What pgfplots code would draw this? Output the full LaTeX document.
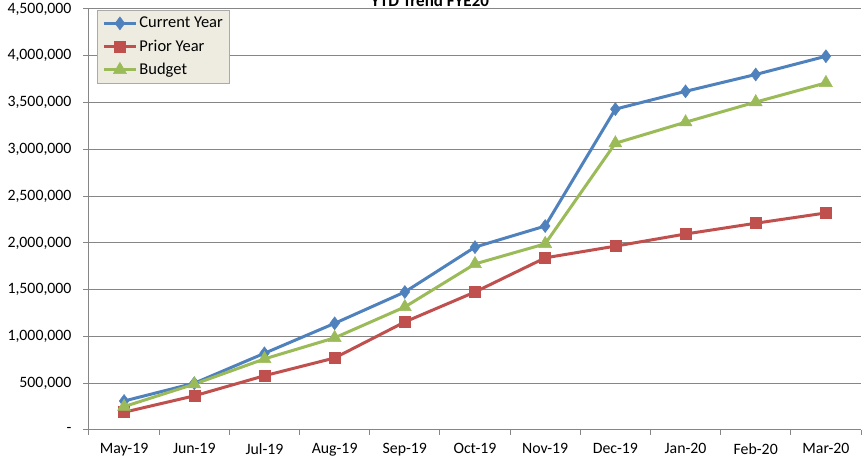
\documentclass[border=0pt]{standalone}
\usepackage{pgfplots}
\pgfplotsset{compat=1.18}
\usepackage{fontspec}
\setmainfont{Carlito}
\definecolor{cy}{HTML}{4F81BD}
\definecolor{py}{HTML}{C0504D}
\definecolor{bu}{HTML}{9BBB59}
\definecolor{gridc}{HTML}{868686}
\definecolor{legbg}{HTML}{EEECE1}
\begin{document}
\begin{tikzpicture}[x=1pt,y=1pt]
\begin{axis}[
  name=ax,
  scale only axis,
  width=772pt, height=421pt,
  xmin=-0.5, xmax=10.5,
  ymin=0, ymax=4500000,
  axis x line*=bottom, axis y line*=left,
  axis line style={gridc, line width=1pt, -},
  xtick={0,...,10},
  xticklabels={May-19,Jun-19,Jul-19,Aug-19,Sep-19,Oct-19,Nov-19,Dec-19,Jan-20,Feb-20,Mar-20},
  major x tick style={draw=none},
  minor xtick={-0.5,0.5,...,10.5},
  minor x tick style={gridc, line width=1pt},
  minor tick length=5pt,
  ytick={0,500000,...,4500000},
  yticklabels={-,{500,000},{1,000,000},{1,500,000},{2,000,000},{2,500,000},{3,000,000},{3,500,000},{4,000,000},{4,500,000}},
  major y tick style={gridc, line width=1pt},
  major tick length=6pt,
  tick align=outside,
  ymajorgrids,
  grid style={gridc, line width=1pt},
  ticklabel style={font=\fontsize{15.8}{18}\selectfont, text=black},
  xticklabel style={yshift=-4pt},
  yticklabel style={xshift=-8pt},
  legend style={at={(0.0104,0.998)}, anchor=north west, fill=legbg, draw=gridc!70, line width=0.8pt,
    font=\fontsize{16.5}{19}\selectfont, row sep=6.5pt, inner xsep=5pt, inner ysep=5pt},
  legend cell align=left,
  legend image code/.code={\draw[#1, line width=3pt, mark repeat=2, mark phase=2] plot coordinates {(0pt,0pt)(16pt,0pt)(32pt,0pt)};},
]
\addplot[cy, line width=3pt, mark=diamond*, mark size=6.5pt, mark options={solid, fill=cy, line width=0.5pt}]
 coordinates {(0,310000)(1,500000)(2,820000)(3,1140000)(4,1475000)(5,1955000)(6,2180000)(7,3430000)(8,3620000)(9,3800000)(10,3995000)};
\addlegendentry{Current Year}
\addplot[py, line width=3pt, mark=square*, mark size=5.5pt, mark options={solid, fill=py, line width=0.5pt}]
 coordinates {(0,190000)(1,365000)(2,580000)(3,770000)(4,1155000)(5,1475000)(6,1840000)(7,1965000)(8,2095000)(9,2210000)(10,2320000)};
\addlegendentry{Prior Year}
\addplot[bu, line width=3pt, mark=triangle*, mark size=7.5pt, mark options={solid, fill=bu, line width=0.5pt}]
 coordinates {(0,250000)(1,490000)(2,760000)(3,985000)(4,1315000)(5,1775000)(6,1990000)(7,3065000)(8,3290000)(9,3505000)(10,3710000)};
\addlegendentry{Budget}
\end{axis}
\node[anchor=base, font=\fontsize{17}{20}\selectfont\bfseries] at ([xshift=341pt,yshift=423pt]ax.south west) {YTD Trend FYE20};
\pgfresetboundingbox
\useasboundingbox ([xshift=-89pt,yshift=-35pt]ax.south west) rectangle ([xshift=6pt,yshift=9pt]ax.north east);
\end{tikzpicture}
\end{document}
